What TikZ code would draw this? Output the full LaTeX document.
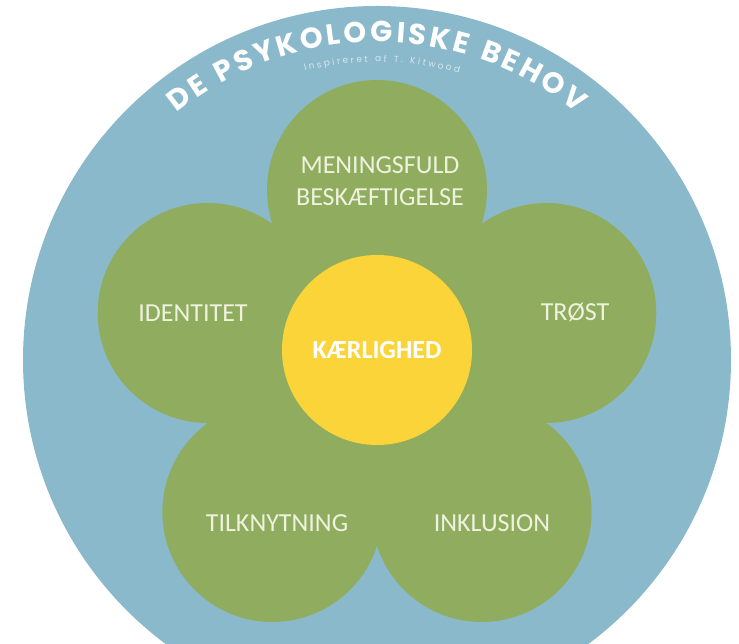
\documentclass[tikz,border=0pt]{standalone}
\usepackage{fontspec}
\setmainfont{Carlito}
\newfontfamily\titlefont{Poppins}
\usetikzlibrary{decorations.text}
\definecolor{himmelblaa}{RGB}{139,185,204}
\definecolor{bladgroen}{RGB}{144,173,95}
\definecolor{solgul}{RGB}{251,212,57}
\definecolor{lystekst}{RGB}{238,242,222}
\definecolor{undertekst}{RGB}{214,229,236}
\tikzset{
    x=1pt, y=1pt,
    % Define style for the big round background
    bund/.style={circle, fill=himmelblaa, minimum size=708pt, inner sep=0pt},
    % Define style for the petals
    blad/.style={circle, fill=bladgroen, minimum size=220pt, inner sep=0pt},
    % Define style for the yellow middle
    sol/.style={circle, fill=solgul, minimum size=190pt, inner sep=0pt,
           text=white, font=\bfseries\fontsize{26}{30}\selectfont},
    % Define style for the petal texts
    tekst/.style={text=lystekst, align=center, inner sep=0pt,
           font=\fontsize{26}{32}\selectfont}
}

\begin{document}
\begin{tikzpicture}
  \clip (0,0) rectangle (739,644);
  \fill[white] (0,0) rectangle (739,644);
  \node[bund] (bund) at (377,284) {};
  \coordinate (midte) at (377,276);
  % petals round the middle
  \node[blad, minimum size=240pt] (kerne) at (midte) {};
  \foreach \vinkel/\navn in {90/top,162/venstre,18/hoejre,234/nedvenstre,306/nedhoejre}
    \node[blad] (\navn) at ([shift={(\vinkel:178pt)}]midte) {};
  \node[sol] (kaerlighed) at (377,294) {KÆRLIGHED};
  % texts
  \node[tekst] (meningsfuld) at (380,463) {MENINGSFULD\\BESKÆFTIGELSE};
  \node[tekst] (identitet) at (193,331) {IDENTITET};
  \node[tekst] (troest) at (575,332) {TRØST};
  \node[tekst] (tilknytning) at (277,121) {TILKNYTNING};
  \node[tekst] (inklusion) at (492,121) {INKLUSION};
  % title along the rim
  \path[decorate, decoration={text along path, text align=fit to path,
      text={|\titlefont\bfseries\fontsize{29}{29}\selectfont\color{white}|DE PSYKOLOGISKE BEHOV}}]
    ([shift={(129:318pt)}]bund.center) arc[start angle=129, end angle=51, radius=318pt];
  \path[decorate, decoration={text along path, text align=fit to path,
      text={|\titlefont\fontsize{9}{9}\selectfont\color{undertekst}|Inspireret af T. Kitwood}}]
    ([shift={(104:298pt)}]bund.center) arc[start angle=104, end angle=74, radius=298pt];
\end{tikzpicture}
\end{document}
